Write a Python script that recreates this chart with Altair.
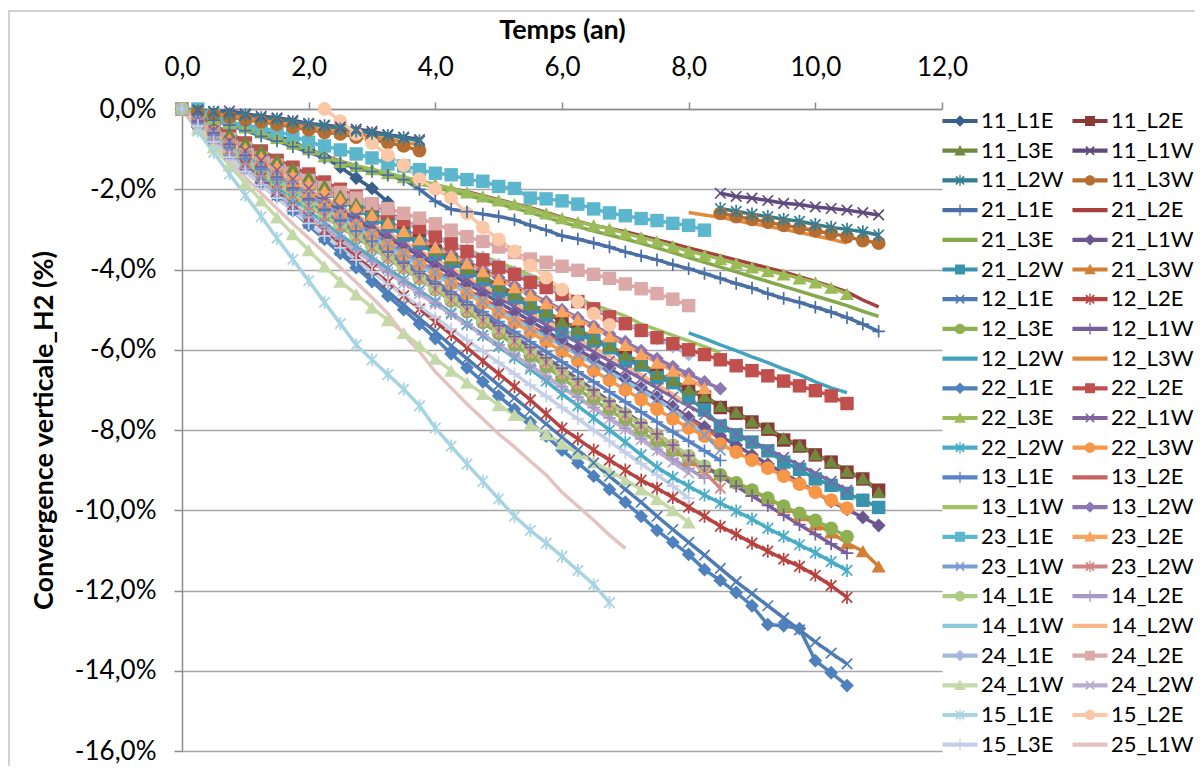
import altair as alt
import pandas as pd

# shared measurement times (years)
T = [0.0, 0.25, 0.5, 0.75, 1.0, 1.25, 1.5, 1.75, 2.0, 2.25, 2.5, 2.75, 3.0, 3.25, 3.5, 3.75,
     4.0, 4.25, 4.5, 4.75, 5.0, 5.25, 5.5, 5.75, 6.0, 6.25, 6.5, 6.75, 7.0, 7.25, 7.5, 7.75,
     8.0, 8.25, 8.5, 8.75, 9.0, 9.25, 9.5, 9.75, 10.0, 10.25, 10.5, 10.75, 11.0]

NAMES = ["11_L1E", "11_L2E", "11_L3E", "11_L1W", "11_L2W", "11_L3W",
         "21_L1E", "21_L2E", "21_L3E", "21_L1W", "21_L2W", "21_L3W",
         "12_L1E", "12_L2E", "12_L3E", "12_L1W", "12_L2W", "12_L3W",
         "22_L1E", "22_L2E", "22_L3E", "22_L1W", "22_L2W", "22_L3W",
         "13_L1E", "13_L2E", "13_L1W", "13_L2W", "23_L1E", "23_L2E",
         "23_L1W", "23_L2W", "14_L1E", "14_L2E", "14_L1W", "14_L2W",
         "24_L1E", "24_L2E", "24_L1W", "24_L2W", "15_L1E", "15_L2E",
         "15_L3E", "25_L1W"]

# convergence values (%) per series, starting at the given time
v_11_L1E = [0.00, -0.10, -0.22, -0.33, -0.44, -0.55, -0.67, -0.80, -1.02, -1.20, -1.45, -1.72, -1.98, -2.32]
v_11_L2E = [0.00, -0.20, -0.42, -0.63, -0.85, -1.05, -1.30, -1.48, -1.70, -1.95, -2.20, -2.38, -2.62, -2.85, -3.10,
            -3.28, -3.55, -3.78, -4.02, -4.20, -4.45, -4.65, -4.92, -5.08, -5.30, -5.50, -5.76, -5.92, -6.15, -6.36,
            -6.62, -6.78, -7.00, -7.18, -7.44, -7.58, -7.80, -7.98, -8.25, -8.40, -8.62, -8.80, -9.05, -9.22, -9.50]
v_11_L3E = [0.00, -0.18, -0.40, -0.60, -0.82, -1.02, -1.25, -1.45, -1.68, -1.90, -2.15, -2.35, -2.58, -2.80, -3.05,
            -3.25, -3.50, -3.72, -3.96, -4.16, -4.40, -4.60, -4.86, -5.05, -5.28, -5.48, -5.72, -5.90, -6.12, -6.33,
            -6.60, -6.75, -6.98, -7.15, -7.40, -7.55, -7.78, -7.95, -8.20, -8.38, -8.60, -8.78, -9.02, -9.20, -9.55]
v_11_L1W_a = [0.00, -0.02, -0.06, -0.05, -0.12, -0.18, -0.22, -0.28, -0.36, -0.40, -0.45, -0.50, -0.56, -0.64, -0.70, -0.76]
v_11_L1W_b = [-2.10, -2.18, -2.22, -2.28, -2.35, -2.38, -2.44, -2.48, -2.52, -2.58, -2.64]
v_11_L2W_a = [0.00, -0.05, -0.08, -0.12, -0.15, -0.22, -0.25, -0.32, -0.38, -0.42, -0.50, -0.55, -0.60, -0.66, -0.72, -0.80]
v_11_L2W_b = [-2.48, -2.55, -2.62, -2.68, -2.75, -2.80, -2.88, -2.95, -3.00, -3.06, -3.14]
v_11_L3W_a = [0.00, -0.08, -0.14, -0.20, -0.27, -0.32, -0.38, -0.45, -0.52, -0.58, -0.62, -0.70, -0.76, -0.84, -0.92, -1.04]
v_11_L3W_b = [-2.60, -2.68, -2.75, -2.82, -2.90, -2.96, -3.04, -3.10, -3.18, -3.28, -3.34]
v_21_L1E = [0.00, -0.14, -0.28, -0.40, -0.54, -0.68, -0.80, -0.94, -1.08, -1.22, -1.34, -1.48, -1.56, -1.65, -1.76,
            -2.00, -2.30, -2.50, -2.56, -2.62, -2.68, -2.76, -2.90, -3.02, -3.16, -3.24, -3.34, -3.44, -3.56, -3.66,
            -3.76, -3.88, -3.98, -4.10, -4.22, -4.35, -4.46, -4.60, -4.72, -4.82, -4.94, -5.06, -5.20, -5.36, -5.54]
v_21_L2E = [0.00, -0.12, -0.24, -0.36, -0.48, -0.60, -0.74, -0.86, -1.00, -1.16, -1.30, -1.42, -1.52, -1.62, -1.72,
            -1.80, -1.90, -1.98, -2.06, -2.16, -2.26, -2.36, -2.46, -2.58, -2.70, -2.80, -2.90, -2.98, -3.06, -3.16,
            -3.26, -3.36, -3.46, -3.56, -3.66, -3.76, -3.86, -3.96, -4.06, -4.18, -4.30, -4.42, -4.56, -4.76, -4.93]
v_21_L3E = [0.00, -0.13, -0.26, -0.38, -0.50, -0.63, -0.76, -0.90, -1.04, -1.18, -1.32, -1.44, -1.55, -1.66, -1.76,
            -1.86, -1.96, -2.05, -2.15, -2.25, -2.36, -2.47, -2.58, -2.70, -2.82, -2.93, -3.04, -3.14, -3.24, -3.35,
            -3.46, -3.58, -3.70, -3.82, -3.94, -4.06, -4.18, -4.30, -4.42, -4.54, -4.66, -4.78, -4.90, -5.04, -5.17]
v_21_L1W = [0.00, -0.30, -0.60, -0.88, -1.15, -1.40, -1.65, -1.88, -2.10, -2.32, -2.54, -2.76, -3.00, -3.22, -3.44,
            -3.66, -3.90, -4.12, -4.35, -4.58, -4.82, -5.05, -5.28, -5.52, -5.78, -6.00, -6.22, -6.46, -6.72, -6.95,
            -7.18, -7.42, -7.68, -7.92, -8.15, -8.38, -8.62, -8.85, -9.08, -9.30, -9.55, -9.78, -9.98, -10.18, -10.38]
v_21_L2W = [0.00, -0.28, -0.52, -0.75, -0.98, -1.20, -1.42, -1.62, -1.85, -2.05, -2.28, -2.48, -2.72, -2.92, -3.15,
            -3.35, -3.62, -3.80, -4.05, -4.25, -4.55, -4.70, -4.95, -5.15, -5.55, -5.62, -5.78, -5.95, -6.28, -6.38,
            -6.70, -6.82, -7.20, -7.50, -7.90, -8.12, -8.30, -8.52, -8.80, -8.98, -9.22, -9.38, -9.58, -9.75, -9.93]
v_21_L3W = [0.00, -0.32, -0.62, -0.90, -1.18, -1.45, -1.72, -1.98, -2.25, -2.50, -2.78, -3.02, -3.30, -3.55, -3.82,
            -4.08, -4.40, -4.62, -4.90, -5.15, -5.45, -5.70, -5.98, -6.22, -6.55, -6.78, -7.05, -7.28, -7.60, -7.85,
            -8.15, -8.50, -8.75, -8.92, -9.10, -9.30, -9.52, -9.70, -9.92, -10.12, -10.35, -10.55, -10.82, -11.02, -11.40]
v_12_L1E = [0.00, -0.38, -0.74, -1.10, -1.45, -1.80, -2.15, -2.50, -2.85, -3.20, -3.52, -3.86, -4.20, -4.55, -4.88,
            -5.22, -5.55, -5.90, -6.22, -6.55, -6.88, -7.20, -7.52, -7.85, -8.18, -8.50, -8.82, -9.15, -9.48, -9.80,
            -10.15, -10.48, -10.80, -11.12, -11.45, -11.78, -12.08, -12.38, -12.68, -12.98, -13.28, -13.56, -13.83]
v_12_L2E = [0.00, -0.36, -0.70, -1.04, -1.38, -1.72, -2.05, -2.38, -2.70, -3.02, -3.35, -3.68, -4.00, -4.32, -4.65,
            -4.98, -5.30, -5.62, -5.95, -6.28, -6.60, -6.92, -7.25, -7.60, -7.95, -8.22, -8.50, -8.75, -9.00, -9.25,
            -9.45, -9.68, -9.92, -10.15, -10.40, -10.60, -10.82, -11.02, -11.22, -11.40, -11.62, -11.88, -12.17]
v_12_L3E = [0.00, -0.32, -0.62, -0.92, -1.20, -1.48, -1.75, -2.02, -2.30, -2.58, -2.85, -3.12, -3.40, -3.68, -3.95,
            -4.22, -4.50, -4.78, -5.05, -5.32, -5.60, -5.88, -6.15, -6.42, -6.70, -6.98, -7.25, -7.50, -7.75, -8.05,
            -8.28, -8.50, -8.72, -8.92, -9.12, -9.32, -9.50, -9.70, -9.90, -10.08, -10.25, -10.45, -10.66]
v_12_L1W = [0.00, -0.30, -0.60, -0.88, -1.16, -1.44, -1.70, -1.97, -2.24, -2.50, -2.77, -3.04, -3.30, -3.57, -3.84,
            -4.10, -4.36, -4.62, -4.88, -5.14, -5.40, -5.67, -5.94, -6.20, -6.46, -6.73, -7.00, -7.28, -7.55, -7.82,
            -8.10, -8.38, -8.64, -8.90, -9.15, -9.40, -9.64, -9.88, -10.12, -10.36, -10.60, -10.84, -11.07]
v_12_L2W = [-5.58, -5.72, -5.88, -6.02, -6.18, -6.32, -6.48, -6.62, -6.80, -6.95, -7.07]
v_12_L3W_a = [0.00, -0.06, -0.12, -0.17, -0.23, -0.28, -0.34, -0.40, -0.46, -0.52, -0.57, -0.63, -0.69, -0.75, -0.82, -0.90]
v_12_L3W_b = [-2.58, -2.64, -2.70, -2.78, -2.86, -2.92, -3.00, -3.08, -3.16, -3.25, -3.34]
v_22_L1E = [0.00, -0.38, -0.76, -1.12, -1.48, -1.84, -2.18, -2.54, -2.90, -3.25, -3.60, -3.95, -4.30, -4.66, -5.00,
            -5.36, -5.72, -6.10, -6.45, -6.80, -7.15, -7.48, -7.80, -8.15, -8.50, -8.82, -9.15, -9.48, -9.80, -10.15,
            -10.50, -10.80, -11.10, -11.48, -11.75, -12.05, -12.38, -12.85, -12.88, -12.95, -13.75, -14.05, -14.37]
v_22_L2E = [0.00, -0.22, -0.44, -0.65, -0.86, -1.06, -1.28, -1.45, -1.62, -1.82, -2.00, -2.18, -2.38, -2.58, -2.78,
            -2.96, -3.18, -3.36, -3.55, -3.76, -3.95, -4.12, -4.32, -4.45, -4.62, -4.80, -4.98, -5.18, -5.35, -5.52,
            -5.70, -5.85, -6.00, -6.12, -6.25, -6.40, -6.52, -6.65, -6.78, -6.90, -7.02, -7.15, -7.34]
v_22_L3E = [0.00, -0.10, -0.22, -0.34, -0.46, -0.58, -0.72, -0.86, -1.00, -1.18, -1.32, -1.42, -1.50, -1.60, -1.70,
            -1.78, -1.88, -1.98, -2.08, -2.18, -2.28, -2.37, -2.48, -2.60, -2.72, -2.82, -2.90, -2.98, -3.10, -3.20,
            -3.30, -3.42, -3.54, -3.64, -3.74, -3.85, -3.95, -4.04, -4.12, -4.22, -4.32, -4.45, -4.61]
v_22_L1W = [0.00, -0.28, -0.54, -0.80, -1.04, -1.28, -1.52, -1.75, -1.98, -2.22, -2.45, -2.68, -2.90, -3.12, -3.35,
            -3.58, -3.80, -4.02, -4.25, -4.48, -4.70, -4.92, -5.15, -5.38, -5.60, -5.82, -6.05, -6.28, -6.50, -6.72,
            -6.95, -7.18, -7.40, -7.62, -7.85, -8.08, -8.28, -8.48, -8.68, -8.88, -9.08, -9.28, -9.50]
v_22_L2W = [0.00, -0.36, -0.70, -1.02, -1.34, -1.64, -1.94, -2.24, -2.54, -2.84, -3.13, -3.42, -3.70, -3.98, -4.25,
            -4.52, -4.80, -5.08, -5.36, -5.64, -5.92, -6.20, -6.48, -6.78, -7.10, -7.40, -7.70, -8.00, -8.30, -8.62,
            -8.93, -9.18, -9.40, -9.62, -9.82, -10.02, -10.22, -10.45, -10.65, -10.86, -11.06, -11.28, -11.50]
v_22_L3W = [0.00, -0.30, -0.58, -0.85, -1.12, -1.38, -1.64, -1.90, -2.15, -2.40, -2.65, -2.90, -3.15, -3.40, -3.64,
            -3.88, -4.12, -4.36, -4.60, -4.84, -5.08, -5.32, -5.56, -5.80, -6.04, -6.28, -6.52, -6.76, -7.00, -7.24,
            -7.48, -7.72, -7.95, -8.15, -8.35, -8.55, -8.75, -8.95, -9.15, -9.35, -9.55, -9.75, -9.95]
v_13_L1E = [0.00, -0.34, -0.66, -0.96, -1.24, -1.50, -1.76, -2.02, -2.28, -2.54, -2.80, -3.05, -3.30, -3.55, -3.80,
            -4.05, -4.30, -4.55, -4.80, -5.05, -5.30, -5.55, -5.80, -6.05, -6.30, -6.55, -6.80, -7.05, -7.30, -7.55,
            -7.80, -8.05, -8.28, -8.52, -8.76]
v_13_L2E = [0.00, -0.32, -0.62, -0.90, -1.16, -1.42, -1.66, -1.90, -2.14, -2.38, -2.62, -2.86, -3.10, -3.34, -3.57,
            -3.80, -4.03, -4.26, -4.49, -4.72, -4.95, -5.18, -5.41, -5.64, -5.87, -6.10, -6.33, -6.56, -6.79, -7.02,
            -7.25, -7.48, -7.72, -7.96, -8.20]
v_13_L1W = [0.00, -0.26, -0.50, -0.72, -0.94, -1.14, -1.34, -1.54, -1.74, -1.92, -2.10, -2.28, -2.46, -2.64, -2.82,
            -3.00, -3.18, -3.34, -3.50, -3.66, -3.82, -3.98, -4.14, -4.30, -4.56, -4.72, -4.88, -5.02, -5.16, -5.36,
            -5.50, -5.64, -5.78, -5.92, -6.07]
v_13_L2W = [0.00, -0.26, -0.50, -0.74, -0.96, -1.18, -1.40, -1.60, -1.80, -2.00, -2.20, -2.40, -2.60, -2.80, -3.00,
            -3.20, -3.40, -3.60, -3.80, -4.00, -4.20, -4.40, -4.60, -4.80, -5.00, -5.20, -5.40, -5.60, -5.80, -6.02,
            -6.22, -6.42, -6.60, -6.80, -6.97]
v_23_L1E = [0.00, -0.15, -0.34, -0.40, -0.47, -0.56, -0.66, -0.83, -0.92, -1.02, -1.12, -1.22, -1.37, -1.42, -1.51,
            -1.60, -1.64, -1.76, -1.80, -1.93, -1.98, -2.22, -2.24, -2.29, -2.37, -2.49, -2.59, -2.66, -2.73, -2.78,
            -2.85, -2.90, -3.02]
v_23_L2E = [0.00, -0.26, -0.52, -0.76, -0.98, -1.20, -1.42, -1.64, -1.84, -2.04, -2.24, -2.44, -2.64, -2.84, -3.04,
            -3.24, -3.44, -3.64, -3.84, -4.04, -4.24, -4.44, -4.64, -4.84, -5.04, -5.24, -5.44, -5.66, -5.88, -6.10,
            -6.32, -6.52, -6.72, -6.95]
v_23_L1W = [0.00, -0.32, -0.62, -0.90, -1.16, -1.42, -1.66, -1.90, -2.14, -2.38, -2.62, -2.86, -3.10, -3.34, -3.58,
            -3.82, -4.06, -4.30, -4.54, -4.78, -5.02, -5.24, -5.46, -5.68, -5.90, -6.12, -6.34, -6.56, -6.78, -7.00,
            -7.22, -7.50, -7.80, -8.12, -8.50]
v_23_L2W = [0.00, -0.36, -0.70, -1.02, -1.32, -1.60, -1.88, -2.15, -2.42, -2.68, -2.94, -3.20, -3.46, -3.72, -3.98,
            -4.24, -4.50, -4.76, -5.02, -5.28, -5.54, -5.80, -6.06, -6.32, -6.58, -6.84, -7.10, -7.36, -7.62, -7.88,
            -8.14, -8.40, -8.70, -9.05, -9.45]
v_14_L1E = [0.00, -0.36, -0.70, -1.02, -1.32, -1.60, -1.88, -2.14, -2.40, -2.66, -2.92, -3.18, -3.44, -3.70, -3.96,
            -4.22, -4.48, -4.74, -5.00, -5.26, -5.52, -5.78, -6.04, -6.30, -6.56, -6.82, -7.08, -7.34, -7.60, -7.86,
            -8.12, -8.38, -8.64, -8.90]
v_14_L2E = [0.00, -0.40, -0.78, -1.14, -1.48, -1.80, -2.10, -2.40, -2.68, -2.96, -3.24, -3.52, -3.80, -4.06, -4.32,
            -4.58, -4.84, -5.10, -5.36, -5.62, -5.88, -6.14, -6.40, -6.66, -6.92, -7.18, -7.44, -7.70, -7.96, -8.22,
            -8.48, -8.72, -8.96, -9.20]
v_14_L1W = [0.00, -0.34, -0.66, -0.96, -1.24, -1.50, -1.76, -2.00, -2.24, -2.48, -2.72, -2.96, -3.20, -3.44, -3.68,
            -3.92, -4.14, -4.36, -4.58, -4.80, -5.02, -5.24, -5.46, -5.68, -5.90, -6.12, -6.34, -6.56, -6.78, -7.00,
            -7.24, -7.48, -7.78, -8.10]
v_14_L2W = [0.00, -0.30, -0.58, -0.84, -1.08, -1.32, -1.54, -1.76, -1.98, -2.20, -2.42, -2.64, -2.86, -3.08, -3.30,
            -3.52, -3.74, -3.96, -4.18, -4.40, -4.62, -4.84, -5.06, -5.28, -5.50, -5.72, -5.94, -6.16, -6.38, -6.62,
            -6.86, -7.10, -7.37]
v_24_L1E = [0.00, -0.26, -0.50, -0.72, -0.92, -1.12, -1.32, -1.52, -1.72, -1.90, -2.08, -2.26, -2.44, -2.62, -2.80,
            -2.98, -3.16, -3.34, -3.52, -3.70, -3.88, -4.06, -4.24, -4.42, -4.60, -4.78, -4.96, -5.14, -5.32, -5.52,
            -5.72, -5.92, -6.12]
v_24_L2E = [0.00, -0.25, -0.50, -0.75, -0.98, -1.22, -1.40, -1.60, -1.78, -1.96, -2.08, -2.22, -2.36, -2.48, -2.60,
            -2.72, -2.86, -3.02, -3.18, -3.30, -3.44, -3.58, -3.74, -3.82, -3.92, -4.02, -4.12, -4.22, -4.36, -4.48,
            -4.60, -4.74, -4.90]
v_24_L1W = [0.00, -0.48, -0.95, -1.40, -1.85, -2.28, -2.70, -3.12, -3.52, -3.92, -4.30, -4.62, -4.95, -5.26, -5.58,
            -5.90, -6.22, -6.52, -6.82, -7.10, -7.38, -7.62, -7.86, -8.10, -8.34, -8.58, -8.80, -9.02, -9.24, -9.48,
            -9.72, -10.00, -10.30]
v_24_L2W = [0.00, -0.40, -0.78, -1.14, -1.48, -1.80, -2.10, -2.40, -2.70, -2.98, -3.26, -3.54, -3.82, -4.08, -4.34,
            -4.60, -4.86, -5.12, -5.38, -5.64, -5.90, -6.16, -6.42, -6.68, -6.94, -7.20, -7.46, -7.72, -7.98, -8.24,
            -8.52, -8.80, -9.07]
v_15_L1E = [0.00, -0.55, -1.08, -1.62, -2.15, -2.68, -3.22, -3.75, -4.28, -4.82, -5.35, -5.88, -6.25, -6.62, -6.98,
            -7.40, -7.95, -8.40, -8.85, -9.28, -9.72, -10.15, -10.50, -10.82, -11.15, -11.50, -11.85, -12.30]
v_15_L2E = [0.00, -0.30, -0.62, -0.85, -1.15, -1.40, -1.75, -2.00, -2.22, -2.60, -2.95, -3.25, -3.55, -3.90, -4.20,
            -4.50, -4.80, -5.10, -5.38]
v_15_L3E = [0.00, -0.42, -0.82, -1.20, -1.56, -1.90, -2.22, -2.54, -2.85, -3.16, -3.46, -3.76, -4.06, -4.36, -4.64,
            -4.92, -5.20, -5.48, -5.76, -6.04, -6.32, -6.60, -6.88, -7.16, -7.44, -7.72, -8.00, -8.28, -8.56, -8.84,
            -9.12, -9.40, -9.70]
v_25_L1W = [0.00, -0.45, -0.88, -1.30, -1.70, -2.10, -2.48, -2.86, -3.22, -3.58, -3.95, -4.32, -4.70, -5.10, -5.62,
            -6.05, -6.55, -6.95, -7.35, -7.72, -8.10, -8.42, -8.78, -9.12, -9.55, -9.90, -10.25, -10.62, -10.95]

# (start time, values) segments for each series
SEGMENTS = {
    "11_L1E": [(0.0, v_11_L1E)], "11_L2E": [(0.0, v_11_L2E)], "11_L3E": [(0.0, v_11_L3E)],
    "11_L1W": [(0.0, v_11_L1W_a), (8.5, v_11_L1W_b)],
    "11_L2W": [(0.0, v_11_L2W_a), (8.5, v_11_L2W_b)],
    "11_L3W": [(0.0, v_11_L3W_a), (8.5, v_11_L3W_b)],
    "21_L1E": [(0.0, v_21_L1E)], "21_L2E": [(0.0, v_21_L2E)], "21_L3E": [(0.0, v_21_L3E)],
    "21_L1W": [(0.0, v_21_L1W)], "21_L2W": [(0.0, v_21_L2W)], "21_L3W": [(0.0, v_21_L3W)],
    "12_L1E": [(0.0, v_12_L1E)], "12_L2E": [(0.0, v_12_L2E)], "12_L3E": [(0.0, v_12_L3E)],
    "12_L1W": [(0.0, v_12_L1W)], "12_L2W": [(8.0, v_12_L2W)],
    "12_L3W": [(0.0, v_12_L3W_a), (8.0, v_12_L3W_b)],
    "22_L1E": [(0.0, v_22_L1E)], "22_L2E": [(0.0, v_22_L2E)], "22_L3E": [(0.0, v_22_L3E)],
    "22_L1W": [(0.0, v_22_L1W)], "22_L2W": [(0.0, v_22_L2W)], "22_L3W": [(0.0, v_22_L3W)],
    "13_L1E": [(0.0, v_13_L1E)], "13_L2E": [(0.0, v_13_L2E)], "13_L1W": [(0.0, v_13_L1W)],
    "13_L2W": [(0.0, v_13_L2W)], "23_L1E": [(0.25, v_23_L1E)], "23_L2E": [(0.0, v_23_L2E)],
    "23_L1W": [(0.0, v_23_L1W)], "23_L2W": [(0.0, v_23_L2W)], "14_L1E": [(0.0, v_14_L1E)],
    "14_L2E": [(0.0, v_14_L2E)], "14_L1W": [(0.0, v_14_L1W)], "14_L2W": [(0.0, v_14_L2W)],
    "24_L1E": [(0.0, v_24_L1E)], "24_L2E": [(0.0, v_24_L2E)], "24_L1W": [(0.0, v_24_L1W)],
    "24_L2W": [(0.0, v_24_L2W)], "15_L1E": [(0.0, v_15_L1E)], "15_L2E": [(2.25, v_15_L2E)],
    "15_L3E": [(0.0, v_15_L3E)], "25_L1W": [(0.0, v_25_L1W)],
}

# ---- styles ----
COLORS = ["#3A5F8B", "#8C3836", "#71893F", "#5E4A7E", "#357D91", "#B66D31",
          "#4A6FA5", "#A5403E", "#86A84C", "#6C5690", "#3A93AC", "#D27F36",
          "#4F7BB4", "#B7423F", "#8FB050", "#775D9C", "#43A2BC", "#E48A3E",
          "#4F81BD", "#C0504D", "#9BBB59", "#8064A2", "#4BACC6", "#F79646",
          "#5A83C6", "#C46361", "#9EC463", "#8E76B0", "#5BB6CE", "#F8A45E",
          "#7F9CD1", "#D08383", "#B0CB83", "#A898C4", "#8CC8DA", "#FAB68A",
          "#A6B9DC", "#DBA9A8", "#C5D9A8", "#B9ADD0", "#A8D3E1", "#FBC8A7",
          "#C5D0E8", "#E3C3C2"]
MARKER_CYCLE = ["diamond", "square", "triangle", "x", "star", "circle", "plus", "none", "none"]
MARKER_OF = {n: MARKER_CYCLE[i % 9] for i, n in enumerate(NAMES)}

rows = []
for name in NAMES:
    for j, (t0, vals) in enumerate(SEGMENTS[name]):
        k0 = T.index(t0)
        for t, v in zip(T[k0:], vals):
            rows.append({"series": name, "seg": f"{name}#{j}", "t": t, "v": v,
                         "marker": MARKER_OF[name]})
df = pd.DataFrame(rows)

FONT = "Lato"
fmt_x = "replace(format(datum.value, '.1f'), '.', ',')"
fmt_y = "(datum.value < 0 ? '-' : '') + replace(format(abs(datum.value), '.1f'), '.', ',') + '%'"

x_axis = alt.Axis(orient="top", values=[0, 2, 4, 6, 8, 10, 12], labelExpr=fmt_x, title="Temps (an)",
                  grid=False, tickSize=7, tickWidth=1.5, tickColor="#8c8c8c", domainColor="#8c8c8c",
                  domainWidth=1.5, labelFont=FONT, labelFontSize=26, labelColor="#000000",
                  labelPadding=22, labelFlush=False, titleFont=FONT, titleFontSize=27,
                  titleFontWeight="bold", titleColor="#000000", titlePadding=10)
y_axis = alt.Axis(values=[0, -2, -4, -6, -8, -10, -12, -14, -16], labelExpr=fmt_y,
                  title="Convergence verticale_H2 (%)", grid=True, gridColor="#a6a6a6", gridWidth=1.5,
                  tickSize=8, tickWidth=1.5, tickColor="#8c8c8c", domainColor="#8c8c8c", domainWidth=1.5,
                  labelFont=FONT, labelFontSize=26, labelColor="#000000", labelPadding=18,
                  titleFont=FONT, titleFontSize=27, titleFontWeight="bold", titleColor="#000000",
                  titlePadding=16)

xenc = alt.X("t:Q", scale=alt.Scale(domain=[0, 12], nice=False), axis=x_axis)
yenc = alt.Y("v:Q", scale=alt.Scale(domain=[-16.0, 0], nice=False), axis=y_axis)
cscale = alt.Scale(domain=NAMES, range=COLORS)
col_nolegend = alt.Color("series:N", scale=cscale, legend=None)

base = alt.Chart(df)

# legend symbols: a line with the marker drawn on it
LINE = "M-1.35,-0.16H1.35V0.16H-1.35Z"
LEG_MARK = {
    "diamond": "M0,-0.44L0.44,0L0,0.44L-0.44,0Z",
    "square": "M-0.38,-0.38H0.38V0.38H-0.38Z",
    "triangle": "M0,-0.44L0.44,0.36H-0.44Z",
    "circle": "M-0.40,0A0.40,0.40,0,1,1,0.40,0A0.40,0.40,0,1,1,-0.40,0Z",
    "x": "M-0.36,-0.27L-0.27,-0.36L0.36,0.27L0.27,0.36Z M-0.36,0.27L0.27,-0.36L0.36,-0.27L-0.27,0.36Z",
    "star": "M-0.36,-0.27L-0.27,-0.36L0.36,0.27L0.27,0.36Z M-0.36,0.27L0.27,-0.36L0.36,-0.27L-0.27,0.36Z M-0.05,-0.44H0.05V0.44H-0.05Z",
    "plus": "M-0.05,-0.44H0.05V0.44H-0.05Z",
    "none": "",
}
LEG_PATHS = [LINE + " " + LEG_MARK[MARKER_OF[n]] for n in NAMES]

leg = alt.Legend(title=None, orient="none", legendX=765, legendY=-1, columns=2,
                 direction="horizontal", symbolLimit=60,
                 symbolSize=676, symbolStrokeWidth=0, labelFont=FONT, labelFontSize=22,
                 labelColor="#000000", labelOffset=8, rowPadding=5.7, columnPadding=8,
                 labelLimit=200)
# first layer carries the legend (no marks drawn)
legend_layer = base.transform_filter("false").mark_point(filled=True, opacity=1).encode(
    x=xenc, y=yenc,
    color=alt.Color("series:N", scale=cscale, legend=leg),
    shape=alt.Shape("series:N", scale=alt.Scale(domain=NAMES, range=LEG_PATHS), legend=leg))

border = alt.Chart(alt.Data(values=[{"a": 1}])).mark_rect(
    fill="transparent", stroke="#c4c4c4", strokeWidth=1.5
).encode(x=alt.value(-173), x2=alt.value(1200), y=alt.value(-98), y2=alt.value(900))

lines = base.mark_line(strokeWidth=3.5, opacity=1).encode(
    x=xenc, y=yenc, color=col_nolegend, detail="seg:N", order="t:Q")

X_PATH = "M-1,-1L1,1M-1,1L1,-1"
STAR_PATH = "M-1,-1L1,1M-1,1L1,-1M0,-1.25L0,1.25"
PLUS_PATH = "M-1.1,0L1.1,0M0,-1.1L0,1.1"
marker_specs = {
    "diamond": dict(shape="diamond", filled=True, size=190),
    "square": dict(shape="square", filled=True, size=180),
    "triangle": dict(shape="triangle-up", filled=True, size=200),
    "circle": dict(shape="circle", filled=True, size=190),
    "x": dict(shape=X_PATH, filled=False, size=110, strokeWidth=1.7),
    "star": dict(shape=STAR_PATH, filled=False, size=110, strokeWidth=1.7),
    "plus": dict(shape=PLUS_PATH, filled=False, size=130, strokeWidth=1.7),
}
marker_layers = []
for m, spec in marker_specs.items():
    marker_layers.append(
        base.transform_filter(alt.datum.marker == m).mark_point(opacity=1, **spec).encode(
            x=xenc, y=yenc, color=col_nolegend))

chart = alt.layer(legend_layer, border, lines, *marker_layers).properties(
    width=760, height=642,
    padding={"left": 174, "top": 101, "right": 253, "bottom": 15},
    autosize=alt.AutoSizeParams(type="none"),
    background="white",
).configure_view(stroke="transparent")

chart.save("out.html", embed_options={"renderer": "svg", "actions": False})
